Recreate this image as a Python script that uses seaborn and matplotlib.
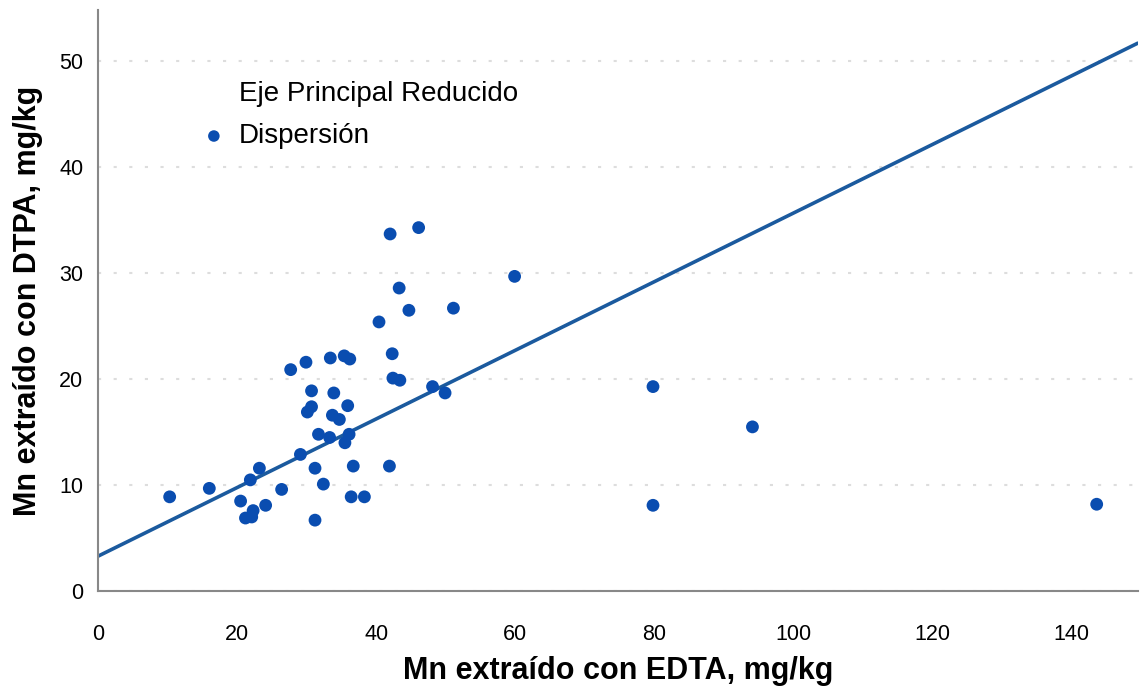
import matplotlib
matplotlib.use("Agg")
import matplotlib.pyplot as plt
import seaborn as sns
import pandas as pd

# Data
edta = [10.3, 16.0, 20.5, 21.9, 23.2, 21.2, 22.1, 22.3, 24.1, 26.4,
        27.7, 29.1, 29.9, 30.1, 30.7, 30.7, 31.2, 31.2, 31.7, 32.4,
        33.4, 33.7, 33.9, 33.3, 34.7, 35.4, 35.5, 35.9, 36.1, 36.4,
        36.2, 36.7, 38.3, 40.4, 41.9, 42.0, 42.3, 42.4, 43.4, 43.3,
        44.7, 46.1, 48.1, 49.9, 51.1, 59.9, 79.8, 79.8, 94.1, 143.6]
dtpa = [8.9, 9.7, 8.5, 10.5, 11.6, 6.9, 7.0, 7.6, 8.1, 9.6,
        20.9, 12.9, 21.6, 16.9, 17.4, 18.9, 11.6, 6.7, 14.8, 10.1,
        22.0, 16.6, 18.7, 14.5, 16.2, 22.2, 14.0, 17.5, 14.8, 8.9,
        21.9, 11.8, 8.9, 25.4, 11.8, 33.7, 22.4, 20.1, 19.9, 28.6,
        26.5, 34.3, 19.3, 18.7, 26.7, 29.7, 19.3, 8.1, 15.5, 8.2]
line_x = [0, 149.5]
line_y = [3.3, 51.7]
x_ticks = [0, 20, 40, 60, 80, 100, 120, 140]
y_ticks = [0, 10, 20, 30, 40, 50]
label_line = "Eje Principal Reducido"
label_pts = "Dispersión"
xlabel = "Mn extraído con EDTA, mg/kg"
ylabel = "Mn extraído con DTPA, mg/kg"

sns.set_style("white")
plt.rcParams["font.family"] = ["Liberation Sans", "DejaVu Sans"]
plt.rcParams["text.color"] = "black"
plt.rcParams["axes.labelcolor"] = "black"
plt.rcParams["xtick.labelcolor"] = "black"
plt.rcParams["ytick.labelcolor"] = "black"

fig = plt.figure(figsize=(11.4, 6.89), dpi=100)
ax = fig.add_axes([0.086, 0.142, 0.912, 0.843])

df_pts = pd.DataFrame({"edta": edta, "dtpa": dtpa})
df_line = pd.DataFrame({"x": line_x, "y": line_y})

sns.lineplot(data=df_line, x="x", y="y", ax=ax, color="#1b5a9e", linewidth=2.6,
             label=label_line, zorder=2)
sns.scatterplot(data=df_pts, x="edta", y="dtpa", ax=ax, color="#0a4db0", s=85,
                edgecolor="none", label=label_pts, zorder=3)

ax.set_xlim(0, 149.5)
ax.set_ylim(0, 54.8)
ax.set_xticks(x_ticks)
ax.set_yticks(y_ticks)
ax.tick_params(axis="both", which="major", labelsize=15.5, direction="inout",
               length=7, width=1.2, color="#888888")
ax.tick_params(axis="x", pad=20)
ax.tick_params(axis="y", pad=7)
for s in ["top", "right"]:
    ax.spines[s].set_visible(False)
for s in ["left", "bottom"]:
    ax.spines[s].set_color("#888888")
    ax.spines[s].set_linewidth(1.5)
ax.yaxis.grid(True, linestyle=(0, (1.5, 6)), color="#dddddd", linewidth=1.5)
ax.xaxis.grid(False)
ax.set_xlabel(xlabel, fontsize=22, fontweight="bold", labelpad=8)
ax.set_ylabel(ylabel, fontsize=22, fontweight="bold", labelpad=12)

leg = ax.legend(loc="upper left", bbox_to_anchor=(0.078, 0.922), frameon=False,
                fontsize=20, handlelength=0.7, handletextpad=0.55,
                labelspacing=0.6, markerscale=0.9)
leg.legend_handles[0].set_visible(False)

fig.savefig("out.png", dpi=100)
